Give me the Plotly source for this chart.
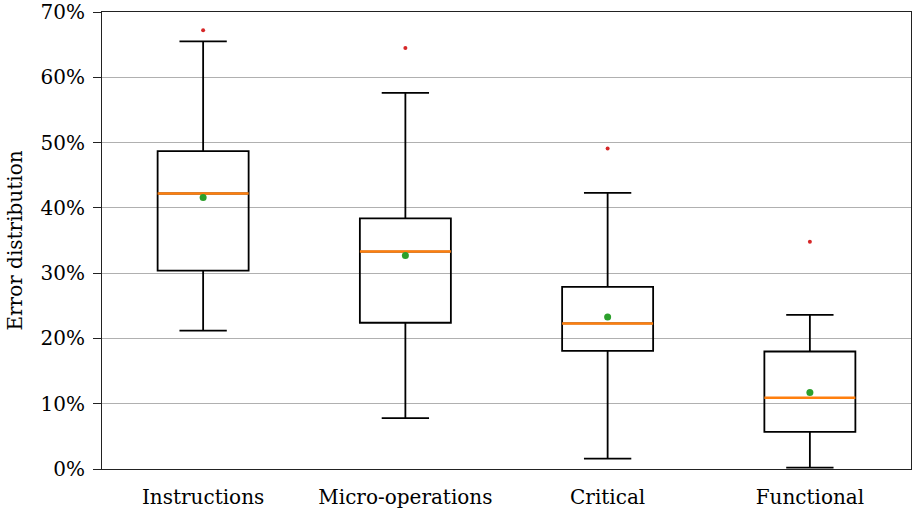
import plotly.graph_objects as go

categories = ["Instructions", "Micro-operations", "Critical", "Functional"]
lower_whisker = [21.2, 7.8, 1.6, 0.2]
q1 = [30.4, 22.4, 18.1, 5.7]
median = [42.2, 33.3, 22.3, 10.9]
q3 = [48.7, 38.4, 27.9, 18.0]
upper_whisker = [65.5, 57.6, 42.3, 23.6]
mean = [41.6, 32.7, 23.3, 11.7]
outliers = [67.2, 64.5, 49.1, 34.8]
y_ticks = [0, 10, 20, 30, 40, 50, 60, 70]

pos = list(range(len(categories)))
box_w = 0.45
FONT = "DejaVu Serif"
tfont = dict(family=FONT, size=20, color="black")

fig = go.Figure()
fig.add_trace(go.Box(
    x=pos, q1=q1, median=median, q3=q3,
    lowerfence=lower_whisker, upperfence=upper_whisker,
    width=box_w, whiskerwidth=0.52,
    line=dict(color="black", width=1.8),
    fillcolor="rgba(0,0,0,0)",
    boxpoints=False, showlegend=False, hoverinfo="skip",
))

mx, my = [], []
for p, m in zip(pos, median):
    mx += [p - box_w / 2, p + box_w / 2, None]
    my += [m, m, None]
fig.add_trace(go.Scatter(x=mx, y=my, mode="lines",
                         line=dict(color="#ff7f0e", width=2.5),
                         showlegend=False, hoverinfo="skip"))
fig.add_trace(go.Scatter(x=pos, y=mean, mode="markers",
                         marker=dict(color="#2ca02c", size=7),
                         showlegend=False))
fig.add_trace(go.Scatter(x=pos, y=outliers, mode="markers",
                         marker=dict(color="#d62728", size=4),
                         showlegend=False))

fig.update_layout(
    width=913, height=514,
    margin=dict(l=102, r=2, t=12, b=45),
    plot_bgcolor="white", paper_bgcolor="white",
    font=tfont,
    xaxis=dict(range=[-0.5, 3.5], tickvals=pos, ticktext=categories,
               tickfont=tfont, ticklabelstandoff=10, automargin=False,
               showgrid=False, zeroline=False,
               showline=True, mirror=True, linecolor="#222222", linewidth=1.2,
               ticks=""),
    yaxis=dict(range=[0, 70], tickvals=y_ticks,
               ticktext=[f"{v}%" for v in y_ticks],
               tickfont=tfont, ticklabeloverflow="allow", automargin=False,
               ticklabelstandoff=4,
               showgrid=True, gridcolor="#b0b0b0", gridwidth=1,
               zeroline=False,
               showline=True, mirror=True, linecolor="#222222", linewidth=1.2,
               ticks="outside", ticklen=8, tickcolor="#222222",
               title=dict(text="Error distribution", font=tfont, standoff=12)),
)

fig.write_html("out.html",
               config={"displayModeBar": False},
               post_script="document.body.style.margin='0';")
